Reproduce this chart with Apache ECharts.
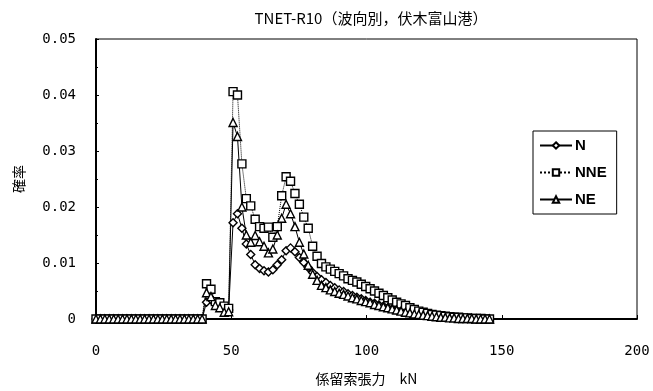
<!DOCTYPE html>
<html>
<head>
<meta charset="utf-8">
<script src="https://cdn.jsdelivr.net/npm/echarts@6/dist/echarts.min.js"></script>
<style>
  html, body { margin: 0; padding: 0; background: #fff; }
  #chart { width: 653px; height: 391px; }
</style>
</head>
<body>
<div id="chart"></div>
<script>
// Probability of mooring-line tension, by wave direction (Fushiki-Toyama port)
const titleText = 'TNET-R10（波向別，伏木富山港）';
const xAxisTitle = '係留索張力　kN';
const yAxisTitle = '確率';
const seriesNames = ['N', 'NNE', 'NE'];

// Tension bins: 1/6 tf wide, expressed in kN
const binWidthKN = 9.80665 / 6;

// Probability per bin (bins 0 … 89)
const probN = [
  0,0,0,0,0,0,0,0,0,0,0,0,0,0,0,0,0,0,0,0,0,0,0,0,0,
  0.0030,0.0035,0.0027,0.0022,0.0020,0.0016,0.0172,0.0188,0.0162,0.0134,
  0.0115,0.0097,0.0090,0.0086,0.0084,0.0088,0.0097,0.0106,0.0122,0.0127,
  0.0120,0.0110,0.0101,0.0092,0.0083,0.0076,0.0070,0.0065,0.0060,0.0056,
  0.0052,0.0049,0.0045,0.0042,0.0039,0.0036,0.0033,0.0030,0.0028,0.0025,
  0.0023,0.0020,0.0018,0.0016,0.0014,0.0012,0.0010,0.0009,0.0008,0.0007,
  0.0006,0.0005,0.0004,0.0003,0.0003,0.0002,0.0002,0.0001,0.0001,0.0001,
  0.0000,0.0000,0.0000,0.0000,0.0000
];
const probNNE = [
  0,0,0,0,0,0,0,0,0,0,0,0,0,0,0,0,0,0,0,0,0,0,0,0,0,
  0.0063,0.0053,0.0031,0.0029,0.0023,0.0019,0.0406,0.0400,0.0277,0.0215,
  0.0202,0.0178,0.0165,0.0162,0.0164,0.0146,0.0165,0.0220,0.0254,0.0246,
  0.0224,0.0205,0.0182,0.0162,0.0130,0.0112,0.0099,0.0093,0.0089,0.0085,
  0.0081,0.0077,0.0072,0.0069,0.0066,0.0062,0.0058,0.0054,0.0050,0.0046,
  0.0042,0.0038,0.0034,0.0030,0.0027,0.0024,0.0020,0.0017,0.0014,0.0012,
  0.0010,0.0008,0.0007,0.0006,0.0005,0.0004,0.0003,0.0003,0.0002,0.0002,
  0.0001,0.0001,0.0001,0.0000,0.0000
];
const probNE = [
  0,0,0,0,0,0,0,0,0,0,0,0,0,0,0,0,0,0,0,0,0,0,0,0,0,
  0.0047,0.0040,0.0024,0.0020,0.0012,0.0013,0.0351,0.0326,0.0200,0.0150,
  0.0137,0.0149,0.0138,0.0130,0.0118,0.0125,0.0150,0.0180,0.0205,0.0188,
  0.0165,0.0137,0.0116,0.0096,0.0080,0.0069,0.0060,0.0056,0.0052,0.0049,
  0.0046,0.0044,0.0041,0.0038,0.0036,0.0033,0.0031,0.0029,0.0026,0.0024,
  0.0022,0.0020,0.0018,0.0016,0.0014,0.0012,0.0011,0.0009,0.0008,0.0007,
  0.0006,0.0005,0.0004,0.0003,0.0003,0.0002,0.0002,0.0001,0.0001,0.0001,
  0.0001,0.0000,0.0000,0.0000,0.0000
];

const xTicks = [0, 50, 100, 150, 200];
const yTicks = [0, 0.01, 0.02, 0.03, 0.04, 0.05];

function toPairs(values) {
  return values.map((v, i) => [i * binWidthKN, v]);
}

const cjk = '"Noto Sans CJK JP", sans-serif';
const mono = '"DejaVu Sans Mono", monospace';

function lineSeries(name, values, symbol, size, dash) {
  return {
    name: name,
    type: 'line',
    data: toPairs(values),
    symbol: symbol,
    symbolSize: size,
    showAllSymbol: true,
    animation: false,
    lineStyle: { color: '#000', width: 1, type: dash },
    itemStyle: { color: '#fff', borderColor: '#000', borderWidth: 1.4 }
  };
}

const chart = echarts.init(document.getElementById('chart'), null, { renderer: 'canvas' });
chart.setOption({
  backgroundColor: '#fff',
  animation: false,
  title: {
    text: titleText,
    left: 366,
    textAlign: 'center',
    top: 6,
    textStyle: { fontFamily: cjk, fontSize: 15, fontWeight: 'normal', color: '#000' }
  },
  legend: {
    orient: 'vertical',
    left: 533,
    top: 131,
    padding: [7, 10, 7, 6],
    itemGap: 12,
    itemWidth: 32,
    itemHeight: 8,
    borderColor: '#000',
    borderWidth: 1,
    backgroundColor: '#fff',
    data: seriesNames,
    textStyle: {
      fontFamily: '"Liberation Sans Narrow", "Liberation Sans", sans-serif',
      fontWeight: 'bold',
      fontSize: 15,
      color: '#000',
      padding: [0, 0, 0, -2]
    }
  },
  grid: {
    left: 96, right: 16, top: 39, bottom: 72,
    show: true, borderColor: '#000', borderWidth: 1, backgroundColor: '#fff'
  },
  xAxis: {
    type: 'value',
    min: xTicks[0],
    max: xTicks[xTicks.length - 1],
    interval: xTicks[1] - xTicks[0],
    name: xAxisTitle,
    nameLocation: 'middle',
    nameGap: 53,
    nameTextStyle: { fontFamily: cjk, fontSize: 14, color: '#000' },
    axisLine: { show: true, lineStyle: { color: '#000', width: 2 } },
    axisTick: { show: true, inside: true, length: 4, lineStyle: { color: '#000' } },
    axisLabel: { margin: 25, fontFamily: mono, fontSize: 14, color: '#000' },
    splitLine: { show: false }
  },
  yAxis: {
    type: 'value',
    min: yTicks[0],
    max: yTicks[yTicks.length - 1],
    interval: yTicks[1] - yTicks[0],
    name: yAxisTitle,
    nameLocation: 'middle',
    nameRotate: 90,
    nameGap: 70,
    nameTextStyle: { fontFamily: cjk, fontSize: 14, color: '#000' },
    axisLine: { show: true, lineStyle: { color: '#000', width: 2 } },
    axisTick: { show: true, inside: true, length: 3, lineStyle: { color: '#000' } },
    minorTick: { show: true, splitNumber: 2, length: 2, lineStyle: { color: '#000' } },
    axisLabel: {
      margin: 20,
      fontFamily: mono,
      fontSize: 14,
      color: '#000',
      formatter: v => (v === 0 ? '0' : v.toFixed(2))
    },
    splitLine: { show: false }
  },
  series: [
    lineSeries(seriesNames[0], probN, 'diamond', 8, 'solid'),
    lineSeries(seriesNames[1], probNNE, 'rect', 8, 'dotted'),
    lineSeries(seriesNames[2], probNE, 'triangle', 8, 'solid')
  ]
});
</script>
</body>
</html>
